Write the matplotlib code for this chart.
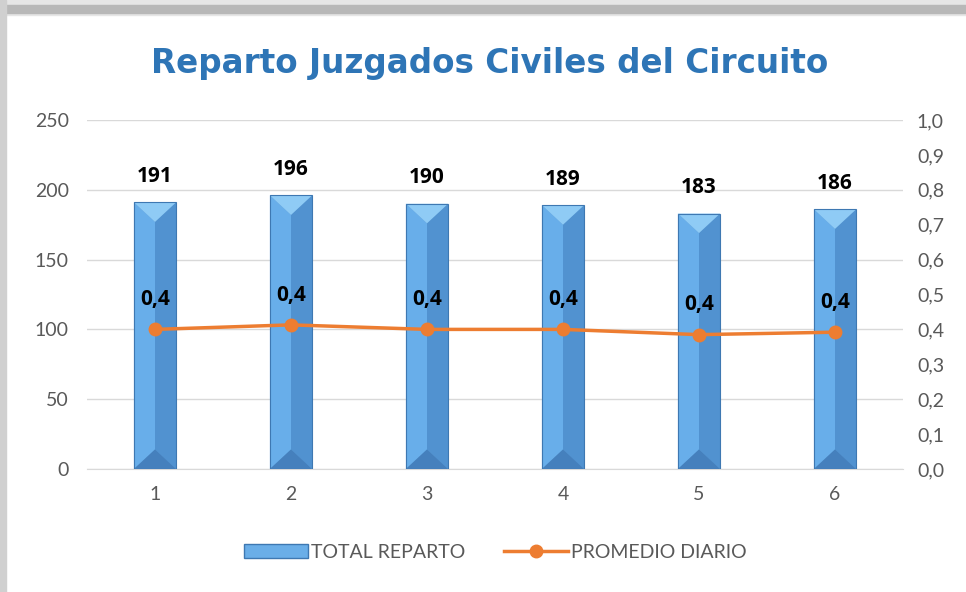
import matplotlib
matplotlib.use("Agg")
import matplotlib.pyplot as plt
from matplotlib.patches import Polygon, Rectangle
from matplotlib.lines import Line2D
from matplotlib.ticker import FuncFormatter

categories = ['1', '2', '3', '4', '5', '6']
total_reparto = [191, 196, 190, 189, 183, 186]
promedio_diario = [0.40, 0.413, 0.40, 0.40, 0.385, 0.392]
promedio_labels = ['0,4', '0,4', '0,4', '0,4', '0,4', '0,4']

blue = '#5B9BD5'
orange = '#ED7D31'
gray_txt = '#595959'

plt.rcParams['font.family'] = ['Lato', 'DejaVu Sans']

fig = plt.figure(figsize=(9.66, 5.92), dpi=100)

# window-ish shadow frame at top and left
fig.patches.append(Rectangle((0, 1 - 15 / 592), 1, 15 / 592, transform=fig.transFigure,
                             color='#E6E6E6', zorder=0))
fig.patches.append(Rectangle((0, 1 - 13 / 592), 1, 8 / 592, transform=fig.transFigure,
                             color='#B8B8B8', zorder=0))
fig.patches.append(Rectangle((0, 0), 6 / 966, 1, transform=fig.transFigure,
                             color='#D0D0D0', zorder=0))

ax = fig.add_axes([87 / 966, 1 - 469 / 592, 816 / 966, 349 / 592])
x = list(range(len(categories)))
bw = 0.31
bars = ax.bar(x, total_reparto, width=bw, color=blue, zorder=2)

# bevel faces on every bar
for b in bars:
    x0, w, h = b.get_x(), b.get_width(), b.get_height()
    x1 = x0 + w
    cx = x0 + w * 0.5
    bev = 14.0
    ax.add_patch(Polygon([(x0, 0), (x0, h), (cx, h - bev), (cx, bev)],
                         color='#68AEEA', zorder=3, lw=0))
    ax.add_patch(Polygon([(cx, bev), (cx, h - bev), (x1, h), (x1, 0)],
                         color='#5192D0', zorder=3, lw=0))
    ax.add_patch(Polygon([(x0, h), (x1, h), (cx, h - bev)],
                         color='#8FCBF5', zorder=4, lw=0))
    ax.add_patch(Polygon([(x0, 0), (x1, 0), (cx, bev)],
                         color='#4580BD', zorder=4, lw=0))
    ax.add_patch(Rectangle((x0, 0), w, h, fill=False, ec='#3E78B2', lw=0.8, zorder=5))
    ax.text(b.get_x() + w / 2, h + 11, str(int(h)), ha='center', va='bottom',
            fontsize=15, fontweight='bold', color='black', family=['Open Sans', 'DejaVu Sans'])

ax.set_ylim(0, 250)
ax.set_xlim(-0.5, len(categories) - 0.5)
ax.set_yticks([0, 50, 100, 150, 200, 250])
ax.set_xticks(x)
ax.set_xticklabels(categories)
ax.yaxis.grid(True, color='#D9D9D9', lw=1)
ax.set_axisbelow(True)
for s in ['top', 'right', 'left']:
    ax.spines[s].set_visible(False)
ax.spines['bottom'].set_color('#D9D9D9')
ax.tick_params(length=0, labelsize=14, colors=gray_txt)
ax.tick_params(axis='y', pad=13)
ax.tick_params(axis='x', pad=12)

ax2 = ax.twinx()
ax2.set_ylim(0, 1.0)
ax2.set_yticks([i / 10 for i in range(11)])
ax2.yaxis.set_major_formatter(FuncFormatter(lambda v, p: f'{v:.1f}'.replace('.', ',')))
for s in ax2.spines.values():
    s.set_visible(False)
ax2.tick_params(length=0, labelsize=14, colors=gray_txt, pad=10)
ax2.plot(x, promedio_diario, color=orange, lw=2.5, marker='o', markersize=9, zorder=6)
for xi, v, lab in zip(x, promedio_diario, promedio_labels):
    ax2.text(xi, v + 0.055, lab, ha='center', va='bottom', fontsize=15,
             fontweight='bold', color='black', family=['Open Sans', 'DejaVu Sans'])

fig.text(0.507, 1 - 63 / 592, 'Reparto Juzgados Civiles del Circuito', ha='center',
         va='center', fontsize=23.5, fontweight='bold', color='#2E75B6',
         family=['DejaVu Sans'])

handles = [Rectangle((0, 0), 1, 1, fc='#6AAEE8', ec='#3E78B2'),
           Line2D([], [], color=orange, lw=2.5, marker='o', markersize=9)]
fig.legend(handles, ['TOTAL REPARTO', 'PROMEDIO DIARIO'], loc='center',
           bbox_to_anchor=(0.513, 1 - 552 / 592), ncol=2, frameon=False,
           fontsize=14, labelcolor=gray_txt, handlelength=3.3, handletextpad=0.15,
           columnspacing=2.0)

fig.savefig('out.png', dpi=100, facecolor='white')
